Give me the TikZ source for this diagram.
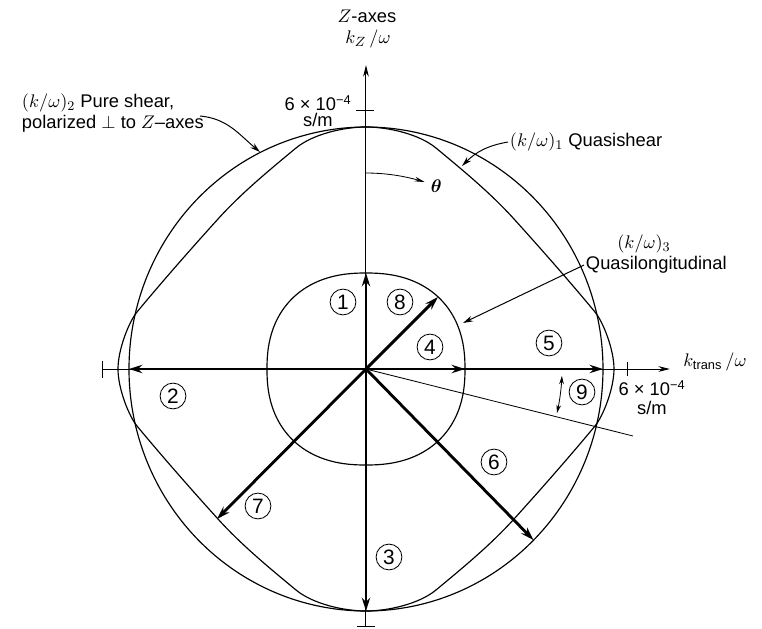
\documentclass[tikz,border=0pt]{standalone}
\usepackage{amsmath}
\usepackage{fontspec}
\setmainfont{Liberation Sans}
\usetikzlibrary{arrows.meta}
\begin{document}
\begin{tikzpicture}[x=0.6pt,y=0.6pt,
  thinline/.style={line width=0.6pt},
  curve/.style={line width=0.7pt},
  bigarrow/.style={line width=1.7pt,-{Stealth[length=8pt,width=5pt]}},
  axisarrow/.style={line width=0.6pt,-{Stealth[length=7pt,width=3.4pt]}},
  labelarrow/.style={line width=0.6pt,-{Stealth[length=6pt,width=3.4pt]}},
  num/.style={circle,draw,line width=0.5pt,inner sep=0pt,minimum size=15.5pt,font=\fontsize{12.5}{12.5}\selectfont},
  lbl/.style={font=\fontsize{11}{13}\selectfont,inner sep=1pt}
]
\useasboundingbox (-366,-259) rectangle (396,369);
\coordinate (O) at (0,0);

% pure shear circle
\draw[curve] plot[domain=0:358,samples=180,smooth cycle] ({237*cos(\x)},{242*sin(\x)});

% quasishear (one quadrant, mirrored)
\foreach \sx/\sy in {1/1,-1/1,-1/-1,1/-1}{
  \begin{scope}[xscale=\sx,yscale=\sy]
    \draw[curve] (0,242) .. controls (22,242) and (53,235) .. (70,221)
      .. controls (97,198.6) and (124.5,176) .. (148,150)
      .. controls (174.8,120.4) and (205,86) .. (229,57)
      .. controls (236.7,47.8) and (248,20) .. (248,0);
  \end{scope}
}

% quasilongitudinal
\draw[curve] plot[domain=1.25:358.75,samples=144,smooth cycle,variable=\t]
  ({99*cos(\t)*abs(cos(\t))^(-0.1304)},{96*sin(\t)*abs(sin(\t))^(-0.1304)});

% axes
\coordinate (zbot) at (0,-257);
\coordinate (ztop) at (0,304);
\coordinate (xl) at (-263,0);
\coordinate (xr) at (304,0);
\draw[thinline] (zbot) -- (O);
\draw[axisarrow] (O) -- (ztop);
\draw[thinline] (xl) -- (O);
\draw[axisarrow] (O) -- (xr);
% ticks
\draw[thinline] (-10,259) -- (8,259);
\draw[thinline] (-9,-257) -- (9,-257);
\draw[thinline] (-263,-9) -- (-263,8);
\draw[thinline] (262,-7) -- (262,7);

% angle line 9
\coordinate (l9) at (267,-67);
\draw[line width=0.5pt] (O) -- (l9);
\draw[line width=0.5pt,{Stealth[length=5pt,width=2.8pt]}-{Stealth[length=5pt,width=2.8pt]}]
  plot[domain=-2:-13,samples=12,smooth] (\x:196);
% theta arc
\draw[line width=0.5pt,-{Stealth[length=6pt,width=2.8pt]}]
  plot[domain=90:72.6,samples=15,smooth] (\x:196);
\node[lbl,anchor=west] (theta) at (63,183) {$\boldsymbol{\theta}$};

% vectors
\coordinate (t1) at (0,96);
\coordinate (t2) at (-237,0);
\coordinate (t3) at (0,-242);
\coordinate (t4) at (99,0);
\coordinate (t5) at (237,0);
\coordinate (t6) at (-45:237 and 242);
\coordinate (t7) at (-149,-150);
\coordinate (t8) at (72,72);
\draw[bigarrow] (O) -- (t5);
\draw[bigarrow] (O) -- (t4);
\draw[bigarrow] (O) -- (t1);
\draw[bigarrow] (O) -- (t2);
\draw[bigarrow] (O) -- (t3);
\draw[bigarrow] (O) -- (t6);
\draw[bigarrow] (O) -- (t7);
\draw[bigarrow] (O) -- (t8);

% circled numbers
\node[num] (n1) at (-23,67) {1};
\node[num] (n8) at (34,67) {8};
\node[num] (n4) at (64,22) {4};
\node[num] (n5) at (183,26) {5};
\node[num] (n9) at (216,-23) {9};
\node[num] (n6) at (128,-93) {6};
\node[num] (n3) at (23,-188) {3};
\node[num] (n7) at (-108,-137) {7};
\node[num] (n2) at (-193,-27) {2};

% axis labels
\node[lbl] (zlab) at (1,353) {$Z$-axes};
\node[lbl] (kz) at (2,330) {$k_Z\,/\omega$};
\node[lbl] (ztick1) at (-48,266) {6 × 10\textsuperscript{−4}};
\node[lbl] (ztick2) at (-48,249) {s/m};
\node[lbl] (xtick1) at (286,-19) {6 × 10\textsuperscript{−4}};
\node[lbl] (xtick2) at (286,-39) {s/m};
\node[lbl] (ktr) at (349,7) {$k_{\text{trans}}\,/\omega$};

% curve labels
\node[lbl,anchor=west] (ps1) at (-346,266) {$(k/\omega)_2$ Pure shear,};
\node[lbl,anchor=west] (ps2) at (-346,245) {polarized $\perp$ to $Z$–axes};
\coordinate (psa) at (-166,253);
\coordinate (pst) at (-106,217);
\draw[labelarrow] (psa) to[out=-5,in=140] (pst);

\node[lbl,anchor=west] (qs) at (142,227) {$(k/\omega)_1$ Quasishear};
\coordinate (qst) at (96,203);
\draw[labelarrow] (qs.west) to[out=190,in=45] (qst);

\node[lbl] (ql1) at (278,125) {$(k/\omega)_3$};
\node[lbl,anchor=west] (ql2) at (218,104) {Quasilongitudinal};
\coordinate (qlt) at (97,46);
\draw[labelarrow] (ql2.west) -- (qlt);
\end{tikzpicture}
\end{document}
